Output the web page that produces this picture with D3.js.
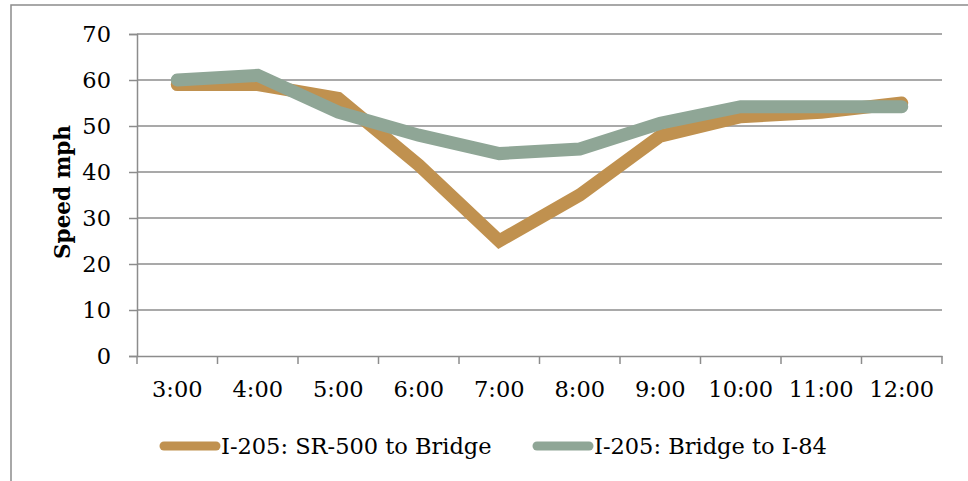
<!DOCTYPE html>
<html>
<head>
<meta charset="utf-8">
<script src="https://cdn.jsdelivr.net/npm/d3@7"></script>
<style>
  html, body { margin: 0; padding: 0; background: #fff; }
  svg { display: block; }
  text { font-family: "DejaVu Serif", serif; fill: #000; }
</style>
</head>
<body>
<svg id="chart" width="968" height="481"></svg>
<script>
const categories = ["3:00", "4:00", "5:00", "6:00", "7:00", "8:00", "9:00", "10:00", "11:00", "12:00"];
const seriesNames = ["I-205: SR-500 to Bridge", "I-205: Bridge to I-84"];
const sr500ToBridge = [59, 59, 56, 41.5, 25, 35, 47.8, 52, 53, 55];
const bridgeToI84 = [60, 61, 53, 48, 44, 45, 50.6, 54.2, 54.2, 54.2];
const yTicks = [0, 10, 20, 30, 40, 50, 60, 70];
const colors = ["#C0914F", "#8FA696"];

const svg = d3.select("#chart");
const gridColor = "#8c8c8c";
const fs = 22.5;

// outer frame
svg.append("rect").attr("x", 11).attr("y", 5).attr("width", 1000).attr("height", 600)
  .attr("fill", "none").attr("stroke", gridColor).attr("stroke-width", 1.5);

const x = d3.scaleBand().domain(categories).range([137, 942]).padding(0);
const y = d3.scaleLinear().domain([0, 70]).range([356, 34]);

// gridlines
svg.append("g").selectAll("line").data(yTicks.filter(d => d > 0)).join("line")
  .attr("x1", 137).attr("x2", 942)
  .attr("y1", d => y(d)).attr("y2", d => y(d))
  .attr("stroke", gridColor).attr("stroke-width", 1.5);

// y axis
const yAxis = svg.append("g").attr("transform", "translate(137,0)")
  .call(d3.axisLeft(y).tickValues(yTicks).tickSize(8).tickPadding(18).tickFormat(d3.format("d")));
yAxis.select(".domain").attr("stroke", gridColor).attr("stroke-width", 1.5);
yAxis.selectAll(".tick line").attr("stroke", gridColor).attr("stroke-width", 1.5);
yAxis.selectAll(".tick text").attr("font-size", fs).attr("font-family", "DejaVu Serif").attr("fill", "#000");

// x axis
const xAxis = svg.append("g").attr("transform", "translate(0,356)")
  .call(d3.axisBottom(x).tickSize(0).tickPadding(25));
xAxis.select(".domain").attr("stroke", gridColor).attr("stroke-width", 1.5);
xAxis.selectAll(".tick text").attr("font-size", fs).attr("font-family", "DejaVu Serif").attr("fill", "#000");
// boundary ticks
const bounds = categories.map(c => x(c)).concat([x(categories[categories.length - 1]) + x.bandwidth()]);
xAxis.append("g").selectAll("line").data(bounds).join("line")
  .attr("x1", d => d).attr("x2", d => d).attr("y1", 0).attr("y2", 8)
  .attr("stroke", gridColor).attr("stroke-width", 1.5);

// y title
svg.append("text")
  .attr("transform", "translate(70,192) rotate(-90)")
  .attr("text-anchor", "middle")
  .attr("font-size", 21.5)
  .attr("font-weight", "bold")
  .text("Speed mph");

// lines
const line = d3.line().x((d, i) => x(categories[i]) + x.bandwidth() / 2).y(d => y(d));
[sr500ToBridge, bridgeToI84].forEach((vals, k) => {
  svg.append("path").datum(vals)
    .attr("d", line)
    .attr("fill", "none")
    .attr("stroke", colors[k])
    .attr("stroke-width", 13)
    .attr("stroke-linecap", "round")
    .attr("stroke-linejoin", "miter");
});

// legend
const legendPos = [160, 533];
seriesNames.forEach((name, k) => {
  const g = svg.append("g");
  g.append("line").attr("x1", legendPos[k] + 4).attr("x2", legendPos[k] + 56)
    .attr("y1", 446).attr("y2", 446)
    .attr("stroke", colors[k]).attr("stroke-width", 9).attr("stroke-linecap", "round");
  g.append("text").attr("x", legendPos[k] + 61).attr("y", 454)
    .attr("font-size", fs).text(name);
});
</script>
</body>
</html>
